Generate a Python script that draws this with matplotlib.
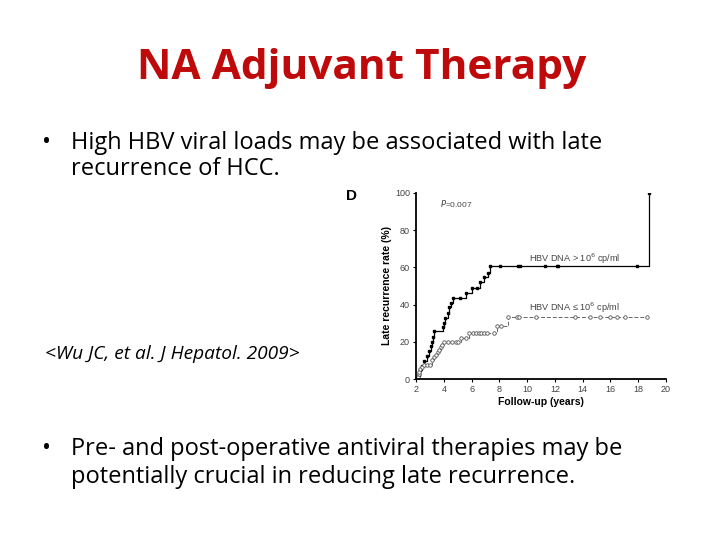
import matplotlib
matplotlib.use("Agg")
import matplotlib.pyplot as plt

# slide texts
title = "NA Adjuvant Therapy"
bullet1 = ["High HBV viral loads may be associated with late", "recurrence of HCC."]
bullet2 = ["Pre- and post-operative antiviral therapies may be",
           "potentially crucial in reducing late recurrence."]
citation = "<Wu JC, et al. J Hepatol. 2009>"

# panel D: late recurrence by HBV DNA level
hi_t = [2.0, 2.17, 2.29, 2.41, 2.6, 2.77, 2.96, 3.06, 3.15, 3.2, 3.25, 3.92, 3.97,
        4.09, 4.28, 4.4, 4.52, 4.64, 5.17, 5.6, 6.0, 6.37, 6.6, 6.9, 7.14, 7.33,
        8.05, 9.35, 9.5, 11.3, 12.15, 12.25, 17.9, 18.75]
hi_y = [0, 2.2, 4.8, 7.0, 9.9, 12.4, 15.2, 17.7, 20.0, 22.4, 25.8, 28.1, 30.3,
        33.0, 35.7, 38.5, 41.0, 43.4, 43.4, 46.0, 49.0, 49.0, 52.0, 55.0, 57.0, 60.7,
        60.7, 60.7, 60.7, 60.7, 60.7, 60.7, 60.7, 100.0]

lo_t = [2.0, 2.1, 2.17, 2.24, 2.31, 2.43, 2.6, 2.8, 3.0, 3.13, 3.3, 3.44, 3.56,
        3.68, 3.78, 3.87, 3.97, 4.3, 4.6, 4.85, 5.05, 5.2, 5.6, 5.84, 6.1, 6.3,
        6.5, 6.7, 6.9, 7.1, 7.6, 7.86, 8.1, 8.6, 9.25, 9.44, 10.6, 13.45, 14.5,
        15.25, 15.95, 16.45, 17.05, 18.6]
lo_y = [0, 0.9, 2.5, 3.9, 5.4, 6.6, 7.5, 7.5, 7.5, 10.2, 11.6, 12.9, 14.3,
        15.6, 17.0, 18.3, 19.8, 19.8, 19.8, 19.8, 19.8, 22.0, 22.0, 24.5, 24.5, 24.5,
        24.5, 24.5, 24.5, 24.5, 24.5, 28.5, 28.5, 33.3, 33.3, 33.3, 33.3, 33.3, 33.3,
        33.3, 33.3, 33.3, 33.3, 33.3]

x_ticks = [2, 4, 6, 8, 10, 12, 14, 16, 18, 20]
y_ticks = [0, 20, 40, 60, 80, 100]

slide_font = ["Open Sans", "DejaVu Sans"]
chart_font = ["Liberation Sans", "DejaVu Sans"]
plt.rcParams["font.family"] = chart_font

fig = plt.figure(figsize=(7.2, 5.4), dpi=100)
fig.patch.set_facecolor("white")

# slide text
fig.text(0.502, 0.874, title, ha="center", va="center", fontsize=30.5,
         fontweight="bold", color="#BE0A0A", family=slide_font)

body = dict(fontsize=17, color="black", va="center", family=slide_font)
fig.text(0.059, 0.735, "\u2022", **body)
fig.text(0.098, 0.735, bullet1[0], **body)
fig.text(0.098, 0.687, bullet1[1], **body)
fig.text(0.059, 0.168, "\u2022", **body)
fig.text(0.098, 0.168, bullet2[0], **body)
fig.text(0.098, 0.116, bullet2[1], **body)
fig.text(0.062, 0.344, citation, fontsize=13.8, style="italic", va="center",
         family=slide_font)

# chart
ax = fig.add_axes([0.578, 0.298, 0.347, 0.345])
ax.step(hi_t, hi_y, where="post", color="black", lw=0.9)
ax.plot(hi_t, hi_y, ls="none", marker="s", ms=1.8, color="black")
ax.step(lo_t, lo_y, where="post", color="#666666", lw=0.7, ls=(0, (4, 2)))
ax.plot(lo_t, lo_y, ls="none", marker="o", ms=2.5, mfc="white",
        mec="#555555", mew=0.6)

ax.set_xlim(2, 20)
ax.set_ylim(0, 100)
ax.set_xticks(x_ticks)
ax.set_yticks(y_ticks)
ax.tick_params(labelsize=6.5, labelcolor="#444444", length=2.5, width=0.8, pad=2)
for s in ["top", "right"]:
    ax.spines[s].set_visible(False)
for s in ["left", "bottom"]:
    ax.spines[s].set_linewidth(1.3)

ax.set_xlabel("Follow-up (years)", fontsize=7.5, fontweight="bold", labelpad=2)
ax.set_ylabel("Late recurrence rate (%)", fontsize=7.5, fontweight="bold", labelpad=2)

ax.text(3.7, 94, "$P$=0.007", fontsize=6, color="#444444", va="center")
ax.text(10.15, 64.5, "HBV DNA > 10$^6$ cp/ml", fontsize=6.6, color="#444444", va="center")
ax.text(10.15, 38.5, "HBV DNA \u2264 10$^6$ cp/ml", fontsize=6.6, color="#444444", va="center")
fig.text(0.481, 0.637, "D", fontsize=11, fontweight="bold", va="center")

fig.savefig("out.png", dpi=100, facecolor="white")
